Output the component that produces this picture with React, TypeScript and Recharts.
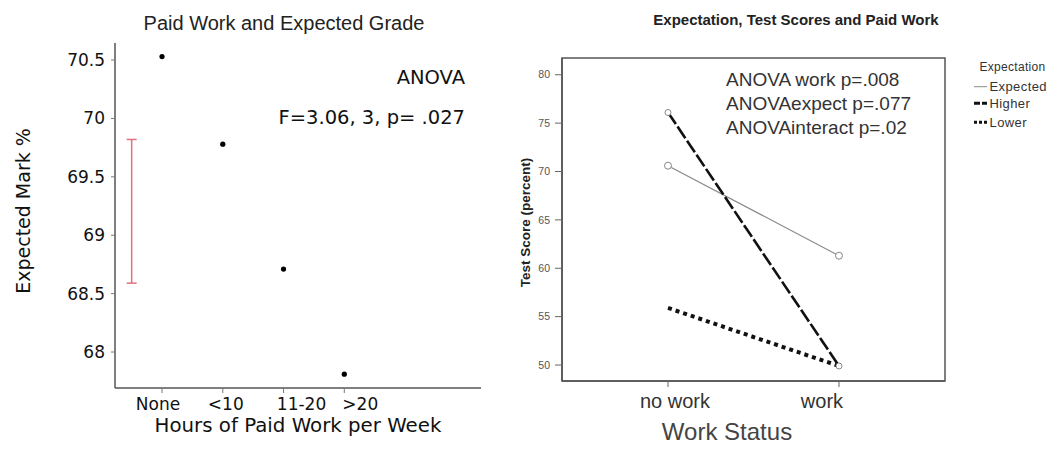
import React from 'react';
import {
  ScatterChart,
  Scatter,
  XAxis,
  YAxis,
  ErrorBar,
  LineChart,
  Line,
  ReferenceArea,
} from 'recharts';

// ---------- data: left chart ----------
const HOURS = ['None', '<10', '11-20', '>20'];
const EXPECTED_MARK = [70.53, 69.78, 68.71, 67.81];
const ERROR_BAR_LOW = 68.59;
const ERROR_BAR_HIGH = 69.82;
const LEFT_Y_TICKS = [68, 68.5, 69, 69.5, 70, 70.5];
const ANOVA_LEFT = ['ANOVA', 'F=3.06, 3, p= .027'];

// ---------- data: right chart ----------
const WORK_STATUS = ['no work', 'work'];
const SCORE_EXPECTED = [70.6, 61.3];
const SCORE_HIGHER = [76.1, 49.9];
const SCORE_LOWER = [55.9, 49.9];
const RIGHT_Y_TICKS = [50, 55, 60, 65, 70, 75, 80];
const EXPECTATION_LEVELS = ['Expected', 'Higher', 'Lower'];
const ANOVA_RIGHT = ['ANOVA work p=.008', 'ANOVAexpect p=.077', 'ANOVAinteract p=.02'];

// ---------- styles ----------
const LEFT_FONT = '"DejaVu Sans", Verdana, sans-serif';
const RIGHT_FONT = '"Liberation Sans", Arial, sans-serif';
const LEFT_X_DOMAIN: [number, number] = [0.226, 6.25];
const LEFT_Y_DOMAIN: [number, number] = [67.692, 70.646];
const RIGHT_X_DOMAIN: [number, number] = [0.38, 2.62];
const RIGHT_Y_DOMAIN: [number, number] = [48.35, 81.73];
const LEFT_LABEL_SHIFT = [-4, 3, 18, 16];
const RIGHT_LABEL_SHIFT = [7, -17];
const SERIES_STYLE: Record<string, any> = {
  Expected: { stroke: '#8a8a8a', strokeWidth: 1.2, dash: undefined },
  Higher: { stroke: '#111', strokeWidth: 2.6, dash: '14 3' },
  Lower: { stroke: '#111', strokeWidth: 4, dash: '4 4' },
};

const leftPoints = HOURS.map((h, i) => ({ x: i + 1, y: EXPECTED_MARK[i], name: h }));
const errorPoint = [
  {
    x: 0.5,
    y: (ERROR_BAR_LOW + ERROR_BAR_HIGH) / 2,
    err: (ERROR_BAR_HIGH - ERROR_BAR_LOW) / 2,
  },
];
const rightData = WORK_STATUS.map((w, i) => ({
  x: i + 1,
  name: w,
  Expected: SCORE_EXPECTED[i],
  Higher: SCORE_HIGHER[i],
  Lower: SCORE_LOWER[i],
}));

const LeftXTick = (props: any) => {
  const { x, y, payload } = props;
  const i = Math.round(payload.value) - 1;
  return (
    <text
      x={x + (LEFT_LABEL_SHIFT[i] || 0)}
      y={y}
      dy="0.71em"
      textAnchor="middle"
      fontFamily={LEFT_FONT}
      fontSize={17}
      fill="#111"
    >
      {HOURS[i]}
    </text>
  );
};

const RightXTick = (props: any) => {
  const { x, y, payload } = props;
  const i = Math.round(payload.value) - 1;
  return (
    <text
      x={x + (RIGHT_LABEL_SHIFT[i] || 0)}
      y={y}
      dy="0.71em"
      textAnchor="middle"
      fontFamily={RIGHT_FONT}
      fontSize={20}
      fill="#333"
    >
      {WORK_STATUS[i]}
    </text>
  );
};

const Dot = (props: any) => {
  const { cx, cy } = props;
  return <circle cx={cx} cy={cy} r={2.6} fill="#000" />;
};
const NoShape = () => <g />;

export default function App() {
  return (
    <div
      style={{
        position: 'absolute',
        left: 0,
        top: 0,
        width: 1050,
        height: 450,
        background: '#fff',
        overflow: 'hidden',
      }}
    >
      <div style={{ position: 'absolute', left: 0, top: 0 }}>
        <ScatterChart
          width={500}
          height={450}
          margin={{ top: 43, right: 19, bottom: 32, left: 55 }}
        >
          <XAxis
            type="number"
            dataKey="x"
            domain={LEFT_X_DOMAIN}
            ticks={[1, 2, 3, 4]}
            allowDataOverflow
            height={30}
            tickSize={5}
            tickMargin={5}
            tick={<LeftXTick />}
            axisLine={{ stroke: '#555', strokeWidth: 1.5 }}
            tickLine={{ stroke: '#777' }}
          />
          <YAxis
            type="number"
            dataKey="y"
            domain={LEFT_Y_DOMAIN}
            ticks={LEFT_Y_TICKS}
            allowDataOverflow
            width={60}
            tickSize={4}
            tickMargin={6}
            tick={{ fontFamily: LEFT_FONT, fontSize: 17, fill: '#111' }}
            axisLine={{ stroke: '#555', strokeWidth: 1.5 }}
            tickLine={{ stroke: '#777' }}
          />
          <Scatter data={errorPoint} shape={<NoShape />} isAnimationActive={false}>
            <ErrorBar
              dataKey="err"
              direction="y"
              width={5}
              stroke="#e07080"
              strokeWidth={1.5}
              isAnimationActive={false}
            />
          </Scatter>
          <Scatter data={leftPoints} shape={<Dot />} isAnimationActive={false} />
        </ScatterChart>
      </div>

      <div style={{ position: 'absolute', left: 500, top: 0 }}>
        <LineChart
          width={550}
          height={450}
          data={rightData}
          margin={{ top: 58, right: 105, bottom: 39, left: 12 }}
        >
          <ReferenceArea
            x1={RIGHT_X_DOMAIN[0]}
            x2={RIGHT_X_DOMAIN[1]}
            y1={RIGHT_Y_DOMAIN[0]}
            y2={RIGHT_Y_DOMAIN[1]}
            fill="none"
            fillOpacity={0}
            stroke="#555"
            strokeWidth={1.5}
            strokeOpacity={1}
            ifOverflow="visible"
          />
          <XAxis
            type="number"
            dataKey="x"
            domain={RIGHT_X_DOMAIN}
            ticks={[1, 2]}
            allowDataOverflow
            height={30}
            tickSize={6}
            tickMargin={7}
            tick={<RightXTick />}
            axisLine={{ stroke: '#555', strokeWidth: 1.5 }}
            tickLine={{ stroke: '#666' }}
          />
          <YAxis
            type="number"
            domain={RIGHT_Y_DOMAIN}
            ticks={RIGHT_Y_TICKS}
            allowDataOverflow
            width={50}
            tickSize={7}
            tickMargin={5}
            tick={{ fontFamily: RIGHT_FONT, fontSize: 10.5, fill: '#555' }}
            axisLine={{ stroke: '#555', strokeWidth: 1.5 }}
            tickLine={{ stroke: '#666' }}
          />
          {EXPECTATION_LEVELS.map((lvl) => (
            <Line
              key={lvl}
              type="linear"
              dataKey={lvl}
              stroke={SERIES_STYLE[lvl].stroke}
              strokeWidth={SERIES_STYLE[lvl].strokeWidth}
              strokeDasharray={SERIES_STYLE[lvl].dash}
              dot={
                lvl === 'Lower'
                  ? false
                  : { r: lvl === 'Expected' ? 3.5 : 3, stroke: '#888', strokeWidth: 1, fill: '#fff', strokeDasharray: '' }
              }
              activeDot={false}
              isAnimationActive={false}
            />
          ))}
        </LineChart>
      </div>

      <svg
        width={1050}
        height={450}
        style={{ position: 'absolute', left: 0, top: 0, pointerEvents: 'none' }}
      >
        {/* left chart texts */}
        <text x={284} y={30} textAnchor="middle" fontFamily={RIGHT_FONT} fontSize={20} fill="#222">
          Paid Work and Expected Grade
        </text>
        <text x={465} y={83.5} textAnchor="end" fontFamily={LEFT_FONT} fontSize={19.5} fill="#111">
          {ANOVA_LEFT[0]}
        </text>
        <text x={465} y={124} textAnchor="end" fontFamily={LEFT_FONT} fontSize={19.5} fill="#111">
          {ANOVA_LEFT[1]}
        </text>
        <text x={298} y={431.5} textAnchor="middle" fontFamily={LEFT_FONT} fontSize={19.8} fill="#111">
          Hours of Paid Work per Week
        </text>
        <text
          x={30}
          y={211}
          textAnchor="middle"
          transform="rotate(-90 30 211)"
          fontFamily={LEFT_FONT}
          fontSize={19}
          fill="#111"
        >
          Expected Mark %
        </text>

        {/* right chart texts */}
        <text
          x={796}
          y={25}
          textAnchor="middle"
          fontFamily={RIGHT_FONT}
          fontWeight="bold"
          fontSize={15}
          fill="#222"
        >
          Expectation, Test Scores and Paid Work
        </text>
        {ANOVA_RIGHT.map((t, i) => (
          <text key={t} x={726} y={85.7 + i * 24.3} fontFamily={RIGHT_FONT} fontSize={19} fill="#333">
            {t}
          </text>
        ))}
        <text
          x={529.5}
          y={222.5}
          textAnchor="middle"
          transform="rotate(-90 529.5 222.5)"
          fontFamily={RIGHT_FONT}
          fontWeight="bold"
          fontSize={13.5}
          fill="#222"
        >
          Test Score (percent)
        </text>
        <text x={727} y={440} textAnchor="middle" fontFamily={RIGHT_FONT} fontSize={24} fill="#444">
          Work Status
        </text>

        {/* legend */}
        <text x={979.5} y={70.7} fontFamily={RIGHT_FONT} fontSize={12} letterSpacing={0.3} fill="#333">
          Expectation
        </text>
        {EXPECTATION_LEVELS.map((lvl, i) => {
          const cy = [86.7, 103.3, 122.3][i];
          const st = SERIES_STYLE[lvl];
          return (
            <g key={lvl}>
              <line
                x1={974}
                x2={987}
                y1={cy}
                y2={cy}
                stroke={st.stroke}
                strokeWidth={lvl === 'Expected' ? 1 : 3}
                strokeDasharray={lvl === 'Higher' ? '6 2' : lvl === 'Lower' ? '3 2' : undefined}
              />
              <text
                x={989.5}
                y={cy + 4.5}
                fontFamily={RIGHT_FONT}
                fontSize={13}
                letterSpacing={0.4}
                fill="#333"
              >
                {lvl}
              </text>
            </g>
          );
        })}
      </svg>
    </div>
  );
}
